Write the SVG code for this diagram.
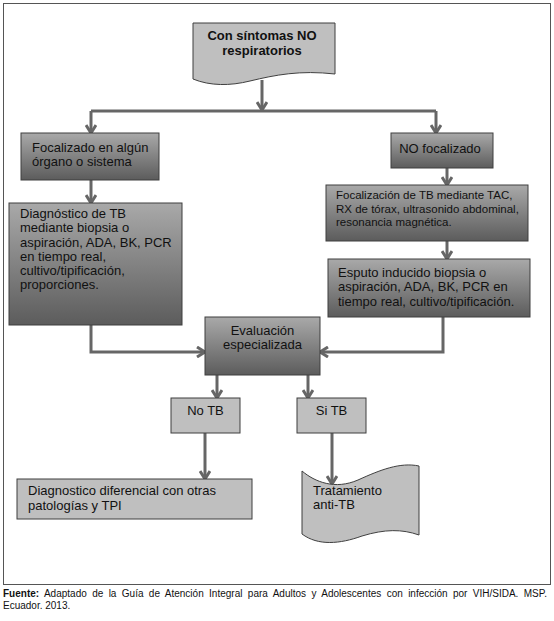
<svg xmlns="http://www.w3.org/2000/svg" width="554" height="621" viewBox="0 0 554 621">
<style>
text{font-family:"Liberation Sans",Arial,sans-serif;fill:#111;}
.t13{font-size:13px;}
.t12{font-size:11.5px;}
.b{font-weight:bold;}
.mid{text-anchor:middle;}
.grad{fill:url(#g);stroke:#3f3f3f;stroke-width:1;}
.flat{fill:#bfbfbf;stroke:#3f3f3f;stroke-width:1;}
.con{fill:none;stroke:#666;stroke-width:3;marker-end:url(#arr);}
.line{fill:none;stroke:#666;stroke-width:3;}
.foot{font-size:10px;}
</style>
<defs>
<linearGradient id="g" x1="0" y1="0" x2="0" y2="1">
<stop offset="0" stop-color="#a9a9a9"/>
<stop offset="1" stop-color="#5c5c5c"/>
</linearGradient>
<marker id="arr" markerUnits="userSpaceOnUse" viewBox="0 0 12 12" markerWidth="12" markerHeight="12" refX="10" refY="6" orient="auto">
<path d="M2,1 L10,6 L2,11" fill="none" stroke="#666" stroke-width="3"/>
</marker>
</defs>
<rect x="3.5" y="3.5" width="547" height="581" fill="#fff" stroke="#555" stroke-width="1"/>

<g id="connectors">
<path class="con" d="M262,80 V110"/>
<path class="line" d="M91,111 H436"/>
<path class="con" d="M91,111 V133"/>
<path class="con" d="M436,111 V133"/>
<path class="con" d="M91,180 V203"/>
<path class="con" d="M447,168 V185"/>
<path class="con" d="M447,241 V259"/>
<path class="con" d="M91,325 V352 H205"/>
<path class="con" d="M443,317 V352 H320"/>
<path class="con" d="M217,375 V398"/>
<path class="con" d="M308,375 V398"/>
<path class="con" d="M205,433 V479"/>
<path class="con" d="M332,433 V484"/>
</g>

<g id="n-start">
<path class="flat" d="M193,23 H335 V74 C300,70 275,75 250,81 C230,86 210,86 193,79 Z"/>
<text class="t13 b mid" x="262" y="40">Con síntomas NO</text>
<text class="t13 b mid" x="262" y="55">respiratorios</text>
</g>

<g id="n-focalizado">
<rect class="grad" x="21" y="133" width="138" height="47"/>
<text class="t13" x="32" y="152">Focalizado en algún</text>
<text class="t13" x="32" y="166">órgano o sistema</text>
</g>

<g id="n-nofocalizado">
<rect class="grad" x="391" y="133" width="102" height="35"/>
<text class="t13 mid" x="440" y="153">NO focalizado</text>
</g>

<g id="n-diagnostico">
<rect class="grad" x="9" y="203" width="173" height="122"/>
<text class="t13" x="20" y="218">Diagnóstico de TB</text>
<text class="t13" x="20" y="232">mediante biopsia o</text>
<text class="t13" x="20" y="247">aspiración, ADA, BK, PCR</text>
<text class="t13" x="20" y="261">en tiempo real,</text>
<text class="t13" x="20" y="275">cultivo/tipificación,</text>
<text class="t13" x="20" y="289">proporciones.</text>
</g>

<g id="n-focalizacion">
<rect class="grad" x="326" y="185" width="202" height="56"/>
<text class="t12" x="336" y="199">Focalización de TB mediante TAC,</text>
<text class="t12" x="336" y="213">RX de tórax, ultrasonido abdominal,</text>
<text class="t12" x="336" y="226">resonancia magnética.</text>
</g>

<g id="n-esputo">
<rect class="grad" x="328" y="259" width="202" height="58"/>
<text class="t13" x="338" y="277">Esputo inducido biopsia o</text>
<text class="t13" x="338" y="291">aspiración, ADA, BK, PCR en</text>
<text class="t13" x="338" y="306">tiempo real, cultivo/tipificación.</text>
</g>

<g id="n-evaluacion">
<rect class="grad" x="205" y="317" width="115" height="58"/>
<text class="t13 mid" x="262.5" y="335">Evaluación</text>
<text class="t13 mid" x="262.5" y="349">especializada</text>
</g>

<g id="n-notb">
<rect class="flat" x="171" y="398" width="69" height="35"/>
<text class="t13 mid" x="205.5" y="415">No TB</text>
</g>

<g id="n-sitb">
<rect class="flat" x="297" y="398" width="69" height="35"/>
<text class="t13 mid" x="331.5" y="415">Si TB</text>
</g>

<g id="n-diferencial">
<rect class="flat" x="17" y="479" width="235" height="40"/>
<text class="t13" x="28" y="495">Diagnostico diferencial con otras</text>
<text class="t13" x="28" y="510">patologías y TPI</text>
</g>

<g id="n-tratamiento">
<path class="flat" d="M302,471 C315,482 335,490 358,480 C380,470 400,462 419,466 V535 C402,529 385,529 362,536 C340,544 318,546 302,534 Z"/>
<text class="t13" x="313" y="495">Tratamiento</text>
<text class="t13" x="313" y="509">anti-TB</text>
</g>

<text class="foot" x="3" y="597" word-spacing="2.6"><tspan class="b">Fuente:</tspan> Adaptado de la Guía de Atención Integral para Adultos y Adolescentes con infección por VIH/SIDA. MSP.</text>
<text class="foot" x="3" y="609">Ecuador. 2013.</text>
</svg>
